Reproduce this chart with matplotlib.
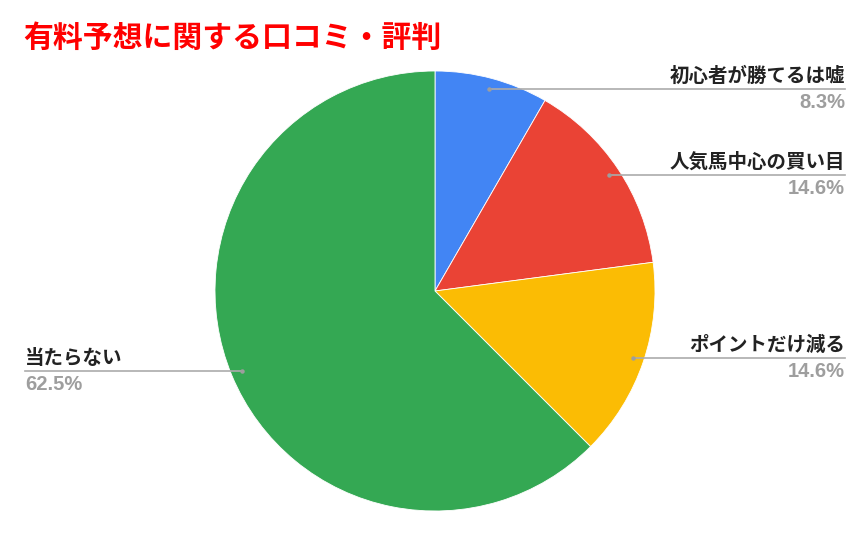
import numpy as np
import matplotlib.pyplot as plt

labels = ['初心者が勝てるは嘘', '人気馬中心の買い目', 'ポイントだけ減る', '当たらない']
values = [4, 7, 7, 30]
colors = ['#4285F4', '#EA4335', '#FBBC04', '#34A853']
title = '有料予想に関する口コミ・評判'

W, H = 867, 534
fig = plt.figure(figsize=(W / 100, H / 100), dpi=100)
ax = fig.add_axes([0, 0, 1, 1])

cx, cy, R = 435, H - 291, 220
wedges, _ = ax.pie(values, colors=colors, startangle=90, counterclock=False,
                   center=(cx, cy), radius=R, frame=True,
                   wedgeprops=dict(edgecolor='white', linewidth=0.6))
ax.set_xlim(0, W)
ax.set_ylim(0, H)
ax.set_aspect('equal')
ax.axis('off')

jp = ['Noto Sans CJK JP', 'DejaVu Sans']
total = sum(values)
for w, lab, v in zip(wedges, labels, values):
    ang = np.deg2rad((w.theta1 + w.theta2) / 2)
    dx, dy = cx + 0.95 * R * np.cos(ang), cy + 0.95 * R * np.sin(ang)
    pct = f'{100 * v / total:.1f}%'
    if np.cos(ang) >= 0:
        xe, ha = 845, 'right'
    else:
        xe, ha = 25, 'left'
    ax.plot([dx, xe], [dy, dy], color='#ababab', lw=1.2, zorder=3)
    ax.plot(dx, dy, 'o', color='#9e9e9e', ms=2.2, zorder=4)
    ax.text(xe, dy + 3, lab, ha=ha, va='bottom', fontsize=14, fontweight='bold',
            family=jp, color='#222222')
    ax.text(xe, dy - 4, pct, ha=ha, va='top', fontsize=14.5, fontweight='bold',
            family=['Liberation Sans', 'DejaVu Sans'], color='#9e9e9e')

fig.text(23 / W, 1 - 38 / H, title, ha='left', va='center', fontsize=21.5,
         fontweight='bold', family=jp, color='#ff0000')

fig.savefig('out.png', dpi=100, facecolor='white')
